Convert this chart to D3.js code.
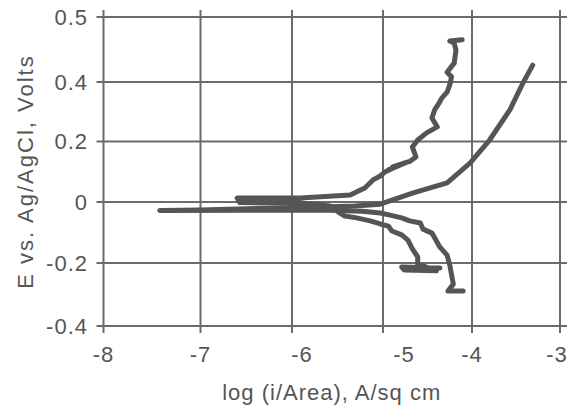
<!DOCTYPE html>
<html lang="en">
<head>
<meta charset="utf-8">
<title>Polarization curve</title>
<script src="https://cdn.jsdelivr.net/npm/d3@7"></script>
<style>
  body { margin: 0; background: #fff; }
  text { font-family: "Liberation Sans", Arial, sans-serif; fill: #555; }
</style>
</head>
<body>
<div id="chart"></div>
<script>
// tick values
var xTicks = [-8, -7, -6, -5, -4, -3];
var yTicks = [-0.4, -0.2, 0, 0.2, 0.4, 0.5];
var xLabels = ["-8", "-7", "-6", "-5", "-4", "-3"];
var yLabels = ["-0.4", "-0.2", "0", "0.2", "0.4", "0.5"];

// scan A: cathodic (right branch) -> spike at Ecorr -> smooth anodic
var scanA = [
  [-4.10, -0.289], [-4.27, -0.289], [-4.21, -0.267], [-4.25, -0.206],
  [-4.28, -0.174], [-4.36, -0.148], [-4.45, -0.102], [-4.55, -0.089],
  [-4.58, -0.069], [-4.70, -0.062], [-4.79, -0.052], [-4.92, -0.043],
  [-5.03, -0.036], [-5.23, -0.030], [-5.58, -0.027], [-6.46, -0.027],
  [-7.42, -0.028], [-7.00, -0.026], [-6.00, -0.018], [-5.69, -0.016],
  [-5.31, -0.013], [-5.03, -0.007], [-4.66, 0.030], [-4.28, 0.063],
  [-4.02, 0.129], [-3.80, 0.205], [-3.57, 0.306], [-3.42, 0.397],
  [-3.31, 0.426]
];

// scan B: cathodic (left branch) -> band near Ecorr -> noisy anodic
var scanB = [
  [-4.36, -0.216], [-4.79, -0.213], [-4.76, -0.222], [-4.40, -0.225],
  [-4.61, -0.203], [-4.61, -0.180], [-4.67, -0.154], [-4.72, -0.125],
  [-4.79, -0.108], [-4.90, -0.095], [-4.94, -0.079], [-5.03, -0.072],
  [-5.14, -0.062], [-5.29, -0.052], [-5.42, -0.046], [-5.49, -0.033],
  [-5.58, -0.013], [-5.91, -0.003], [-6.57, -0.002], [-6.60, 0.013],
  [-5.91, 0.013], [-5.36, 0.023], [-5.27, 0.036], [-5.20, 0.046],
  [-5.11, 0.073], [-5.03, 0.086], [-4.98, 0.099], [-4.81, 0.122],
  [-4.94, 0.106], [-4.75, 0.129], [-4.89, 0.116], [-4.73, 0.132],
  [-4.70, 0.134], [-4.63, 0.149], [-4.67, 0.182], [-4.61, 0.205],
  [-4.51, 0.229], [-4.39, 0.249], [-4.45, 0.279], [-4.42, 0.306],
  [-4.37, 0.329], [-4.34, 0.346], [-4.28, 0.366], [-4.25, 0.390],
  [-4.23, 0.408], [-4.28, 0.415], [-4.20, 0.429], [-4.18, 0.449],
  [-4.20, 0.460], [-4.25, 0.463], [-4.11, 0.465]
];

var W = 569, H = 407;
var svg = d3.select("#chart").append("svg")
  .attr("width", W)
  .attr("height", H);

// the printed grid is not quite even, so the scales follow it piece by piece
var x = d3.scaleLinear()
  .domain(xTicks)
  .range([103.5, 200.5, 292, 383, 472, 560]);
var y = d3.scaleLinear()
  .domain(yTicks)
  .range([326, 263, 202, 141.5, 82, 17]);

var plotL = x(-8), plotR = x(-3), plotT = y(0.5), plotB = y(-0.4);
var ext = 7;
var gridColor = "#6b6b6b";

// grid lines (they stick out past the frame like tick marks)
svg.selectAll(".vgrid")
  .data(xTicks)
  .enter().append("line")
    .attr("x1", function(d) { return x(d); })
    .attr("x2", function(d) { return x(d); })
    .attr("y1", plotT - ext)
    .attr("y2", plotB + ext)
    .attr("stroke", gridColor)
    .attr("stroke-width", 2);

svg.selectAll(".hgrid")
  .data(yTicks)
  .enter().append("line")
    .attr("x1", plotL - ext)
    .attr("x2", plotR + ext)
    .attr("y1", function(d) { return y(d); })
    .attr("y2", function(d) { return y(d); })
    .attr("stroke", gridColor)
    .attr("stroke-width", 2);

// tick labels; some x labels sit off their ticks in the original print
var nudge = {"-6": 10, "-5": 21, "-3": -3};
svg.selectAll(".xlab")
  .data(xTicks)
  .enter().append("text")
    .attr("x", function(d) { return x(d) + (nudge[d] || 0); })
    .attr("y", 362)
    .attr("text-anchor", "middle")
    .style("font-size", "22px")
    .style("letter-spacing", "1px")
    .text(function(d, i) { return xLabels[i]; });

svg.selectAll(".ylab")
  .data(yTicks)
  .enter().append("text")
    .attr("x", 88)
    .attr("y", function(d) { return y(d); })
    .attr("dy", "0.36em")
    .attr("text-anchor", "end")
    .style("font-size", "22px")
    .style("letter-spacing", "1px")
    .text(function(d, i) { return yLabels[i]; });

// axis titles
svg.append("text")
  .attr("x", (plotL + plotR) / 2)
  .attr("y", 400)
  .attr("text-anchor", "middle")
  .style("font-size", "22px")
  .style("letter-spacing", "1px")
  .text("log (i/Area), A/sq cm");

svg.append("text")
  .attr("transform", "translate(33," + ((plotT + plotB) / 2) + ")rotate(-90)")
  .attr("text-anchor", "middle")
  .style("font-size", "22px")
  .style("letter-spacing", "2px")
  .text("E vs. Ag/AgCl, Volts");

// the curves
var line = d3.line()
  .x(function(d) { return x(d[0]); })
  .y(function(d) { return y(d[1]); });

svg.selectAll(".scan")
  .data([scanA, scanB])
  .enter().append("path")
    .attr("d", line)
    .attr("fill", "none")
    .attr("stroke", "#555")
    .attr("stroke-width", 5)
    .attr("stroke-linejoin", "round")
    .attr("stroke-linecap", "round");
</script>
</body>
</html>
